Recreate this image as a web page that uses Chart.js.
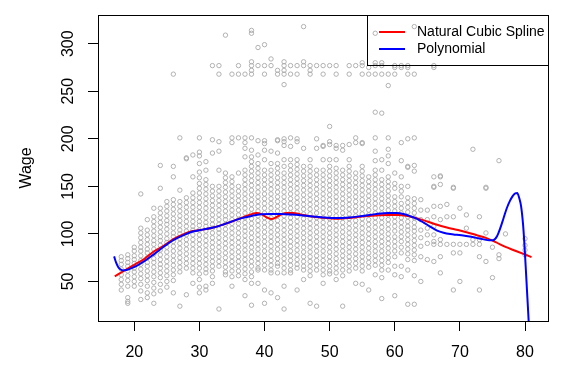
<!DOCTYPE html>
<html>
<head>
<meta charset="utf-8">
<script src="https://cdn.jsdelivr.net/npm/chart.js@4.4.1/dist/chart.umd.min.js"></script>
<style>
  html, body { margin: 0; padding: 0; background: #fff; }
  canvas { display: block; }
</style>
</head>
<body>
<canvas id="chart" width="574" height="384"></canvas>
<script>
var FONT = '"Liberation Sans", Arial, Helvetica, sans-serif';

// wage observations, one column of values per age
var ageColumns = [18, 19, 20, 21, 22, 23, 24, 25, 26, 27, 28, 29, 30, 31, 32, 33, 34, 35, 36, 37,
  38, 39, 40, 41, 42, 43, 44, 45, 46, 47, 48, 49, 50, 51, 52, 53, 54, 55, 56, 57, 58, 59, 60,
  61, 62, 63, 64, 65, 66, 67, 68, 69, 70, 71, 72, 73, 74, 75, 76, 77, 80];
var wageColumns = [
  [76, 72, 68, 63, 57, 52, 47, 41],
  [78, 74, 70, 66, 61, 56, 51, 45, 33, 29, 27],
  [86, 82, 77, 73, 69, 64, 60, 55, 50, 45],
  [142, 106, 101, 96, 91, 86, 82, 77, 72, 68, 63, 58, 53, 47, 40, 31],
  [115, 104, 99, 94, 89, 84, 80, 75, 70, 66, 61, 56, 51, 45, 38, 33],
  [127, 118, 113, 108, 103, 98, 93, 89, 84, 79, 74, 70, 65, 60, 55, 49, 43, 37, 27],
  [172, 148, 127, 122, 117, 112, 107, 102, 97, 93, 88, 83, 78, 73, 68, 64, 59, 54, 47, 40],
  [134, 129, 124, 119, 114, 110, 105, 100, 95, 91, 86, 81, 76, 71, 66, 61, 56, 50, 44],
  [268, 171, 160, 136, 131, 126, 121, 116, 111, 106, 101, 97, 92, 87, 82, 77, 72, 67, 62, 57, 51, 38],
  [201, 146, 134, 129, 124, 119, 114, 109, 104, 100, 95, 90, 85, 80, 75, 70, 65, 60, 24],
  [180, 179, 138, 133, 128, 123, 118, 113, 108, 103, 99, 94, 89, 84, 79, 74, 69, 64, 36],
  [183, 160, 143, 138, 133, 128, 123, 118, 113, 108, 104, 99, 94, 89, 84, 79, 74, 69, 64, 59, 48],
  [201, 186, 182, 174, 165, 159, 153, 148, 143, 138, 133, 128, 123, 118, 113, 109, 104, 99, 94, 89, 84, 79, 74, 69, 64, 58, 52, 44, 38],
  [176, 167, 157, 152, 147, 142, 137, 132, 127, 122, 117, 112, 108, 103, 98, 93, 88, 83, 78, 73, 68, 63, 59, 45, 41],
  [277, 199, 185, 150, 145, 140, 135, 130, 125, 120, 115, 110, 106, 101, 96, 91, 86, 81, 76, 71, 66, 61, 55, 48],
  [277, 268, 197, 187, 167, 150, 145, 140, 135, 130, 125, 120, 115, 110, 105, 101, 96, 91, 86, 81, 76, 71, 66, 21],
  [309, 164, 159, 154, 149, 144, 139, 134, 129, 124, 119, 115, 110, 105, 100, 95, 90, 85, 80, 75, 70, 65, 60, 57],
  [268, 201, 196, 160, 155, 150, 145, 140, 135, 130, 125, 120, 115, 111, 106, 101, 96, 91, 86, 81, 76, 71, 66, 61, 55, 45],
  [277, 268, 201, 164, 150, 145, 140, 135, 130, 125, 120, 115, 111, 106, 101, 96, 91, 86, 81, 76, 71, 66, 61, 56],
  [268, 201, 196, 190, 181, 167, 162, 157, 152, 147, 142, 137, 132, 127, 122, 117, 112, 107, 103, 98, 93, 88, 83, 78, 73, 68, 63, 58, 52, 35],
  [314, 311, 281, 277, 272, 268, 201, 188, 181, 176, 171, 166, 161, 156, 151, 146, 141, 136, 131, 126, 121, 116, 111, 106, 101, 96, 91, 86, 81, 76, 71, 66, 60, 55, 48, 25],
  [296, 277, 198, 183, 174, 169, 164, 159, 154, 149, 144, 139, 134, 129, 124, 119, 114, 109, 104, 99, 94, 89, 84, 79, 74, 69, 64, 62, 48],
  [299, 277, 268, 198, 195, 188, 178, 167, 162, 157, 152, 147, 142, 137, 132, 127, 122, 117, 112, 107, 102, 97, 92, 87, 82, 77, 72, 67, 62, 41, 27],
  [284, 277, 187, 174, 167, 162, 157, 152, 147, 142, 137, 132, 127, 122, 117, 112, 107, 102, 97, 92, 87, 82, 77, 72, 67, 62, 59, 38],
  [272, 268, 199, 198, 185, 174, 169, 164, 159, 154, 149, 144, 139, 134, 129, 124, 119, 114, 109, 104, 99, 94, 89, 84, 79, 74, 69, 66, 59, 33],
  [281, 277, 272, 268, 257, 200, 197, 193, 178, 171, 164, 159, 154, 149, 144, 139, 134, 129, 124, 119, 114, 109, 104, 99, 94, 89, 84, 79, 74, 69, 64, 59, 45, 21],
  [277, 268, 201, 192, 178, 172, 167, 162, 157, 152, 147, 142, 137, 132, 127, 122, 117, 112, 107, 102, 97, 92, 87, 82, 77, 72, 67, 62, 59],
  [277, 268, 200, 197, 178, 173, 168, 163, 158, 153, 148, 143, 138, 133, 128, 123, 118, 113, 108, 103, 98, 93, 88, 83, 78, 73, 68, 64, 41],
  [318, 281, 277, 190, 171, 166, 161, 156, 151, 146, 141, 136, 131, 126, 121, 116, 111, 106, 101, 96, 91, 86, 81, 76, 71, 66, 62, 52],
  [277, 272, 268, 178, 171, 166, 161, 156, 151, 146, 141, 136, 131, 126, 121, 116, 111, 106, 101, 96, 91, 86, 81, 76, 71, 66, 61, 56, 27],
  [277, 200, 190, 167, 162, 157, 152, 147, 142, 137, 132, 127, 122, 117, 112, 107, 102, 97, 92, 87, 82, 77, 72, 67, 62, 24],
  [277, 268, 193, 192, 178, 167, 162, 157, 152, 147, 142, 137, 132, 127, 122, 117, 112, 107, 102, 97, 92, 87, 82, 77, 72, 67, 62, 57, 48],
  [277, 213, 197, 194, 178, 171, 166, 161, 156, 151, 146, 141, 136, 131, 126, 121, 116, 111, 106, 101, 96, 91, 86, 81, 76, 71, 66, 61, 58],
  [277, 268, 193, 190, 178, 169, 164, 159, 154, 149, 144, 139, 134, 129, 124, 119, 114, 109, 104, 99, 94, 89, 84, 79, 74, 69, 64, 59, 52],
  [193, 188, 167, 162, 157, 152, 147, 142, 137, 132, 127, 122, 117, 112, 107, 102, 97, 92, 87, 82, 77, 72, 67, 62, 56, 24],
  [277, 268, 194, 178, 171, 166, 161, 156, 151, 146, 141, 136, 131, 126, 121, 116, 111, 106, 101, 96, 91, 86, 81, 76, 71, 66, 61],
  [277, 201, 196, 164, 159, 154, 149, 144, 139, 134, 129, 124, 119, 114, 109, 104, 99, 94, 89, 84, 79, 74, 69, 64, 48],
  [280, 277, 268, 196, 195, 171, 166, 161, 156, 151, 146, 141, 136, 131, 126, 121, 116, 111, 106, 101, 96, 91, 86, 81, 76, 71, 66, 61, 47],
  [275, 268, 160, 155, 150, 145, 140, 135, 130, 125, 120, 115, 110, 105, 100, 95, 90, 85, 80, 75, 70, 65, 41],
  [311, 280, 277, 268, 228, 201, 187, 177, 167, 162, 157, 152, 147, 142, 137, 132, 127, 122, 117, 112, 107, 102, 97, 92, 87, 82, 77, 72, 67, 57],
  [280, 277, 268, 227, 178, 167, 157, 152, 147, 142, 137, 132, 127, 122, 117, 112, 107, 102, 97, 92, 87, 82, 77, 72, 67, 62, 54, 32],
  [268, 256, 201, 189, 182, 174, 160, 155, 150, 145, 140, 135, 130, 125, 120, 115, 110, 105, 100, 95, 90, 85, 80, 75, 70, 62],
  [277, 275, 268, 164, 153, 148, 139, 134, 129, 124, 118, 113, 108, 103, 97, 92, 87, 82, 76, 66, 57, 35],
  [277, 275, 196, 177, 160, 150, 145, 139, 132, 127, 122, 117, 112, 107, 102, 97, 92, 86, 80, 66, 55],
  [277, 275, 268, 200, 171, 170, 150, 138, 133, 128, 123, 118, 113, 108, 104, 99, 94, 89, 84, 79, 73, 62, 26],
  [318, 268, 201, 172, 166, 137, 132, 127, 122, 117, 112, 107, 103, 98, 93, 88, 83, 78, 72, 56, 26],
  [136, 125, 115, 104, 96, 87, 76, 50],
  [125, 115, 106, 99, 90, 73],
  [277, 275, 160, 150, 149, 129, 118, 108, 99, 92, 89, 71],
  [161, 160, 152, 129, 115, 94, 89, 76, 59],
  [131, 118, 89],
  [149, 148, 118, 89, 80, 41],
  [127, 89, 80, 50],
  [120, 106, 89],
  [189, 94, 89],
  [118, 94, 89, 76, 41],
  [149, 148, 101, 71],
  [86, 54],
  [177, 78, 74],
  [100],
  [95, 88, 83, 78]
];

// fitted curves
var splineAges = [17, 18.5, 20, 21.5, 23, 24.5, 26, 27.5, 29, 30.5, 32, 33.5, 35, 36.5, 38, 38.8,
  39.5, 40.3, 41.1, 41.8, 42.6, 43.5, 44.4, 45.5, 47, 49, 51, 53, 55, 57, 59, 60.5, 62, 63.5,
  65, 66.5, 68, 69.5, 71, 72.5, 74, 75.5, 77, 78.5, 81];
var splineWages = [55.3, 61.5, 67.5, 73.5, 81.5, 87.5, 94.5, 99.5, 103, 104.5, 106.5, 109.5, 113,
  117, 120.8, 122, 120.8, 117.5, 115.6, 117.5, 120.5, 122, 122, 120.5, 118.5, 117, 116, 116.8,
  118.3, 119.3, 120, 120, 118.8, 116.3, 113, 109.6, 106.8, 104.3, 101.8, 98.8, 95.8, 91.3, 86.3,
  82.3, 75.6];
var polyAges = [16.9, 17.2, 17.5, 17.9, 18.3, 18.8, 19.5, 20.5, 21.6, 23, 24.5, 26, 27.5, 29, 30.5,
  32, 33.5, 35, 36.5, 38, 39.5, 41, 42.5, 44, 45.5, 47, 49, 51, 53, 55, 57, 59, 60.3, 61.5, 62.5,
  63.5, 64.5, 65.5, 66.5, 67.5, 68.5, 69.5, 70.5, 71.5, 72.5, 73.5, 74.5, 75.1, 75.7, 76.2, 76.7,
  77.2, 77.7, 78.1, 78.5, 78.8, 79.1, 79.4, 79.7, 79.9, 80.1, 80.3, 80.5, 80.6];
var polyWages = [76.3, 70, 65.5, 62.5, 61.6, 62, 63.8, 67, 71.5, 78.5, 86.5, 93.5, 98.5, 102.5,
  104.5, 106.5, 109.5, 113.2, 116.6, 118.9, 120.6, 121, 120.9, 120.4, 119.7, 118.6, 117.3, 116.6,
  117.2, 118.9, 120.8, 122, 122, 120.6, 118.3, 115.6, 111.5, 107.5, 103.5, 101.2, 99.8, 99, 98.3,
  97.2, 95.8, 94.5, 93.2, 93.3, 97.5, 106, 116.5, 127, 135, 139.8, 142.7, 143, 138, 129, 110, 90,
  66, 41, 16, 3];

var seriesNames = ['Natural Cubic Spline', 'Polynomial'];
var seriesColors = ['#ff0000', '#0000ff'];
var xTicks = [20, 30, 40, 50, 60, 70, 80];
var yTicks = [50, 100, 150, 200, 250, 300];

function toPoints(xs, ys) {
  return xs.map(function (x, i) { return { x: x, y: ys[i] }; });
}

var scatterPoints = [];
ageColumns.forEach(function (age, i) {
  wageColumns[i].forEach(function (w) { scatterPoints.push({ x: age, y: w }); });
});

// box, rotated y labels, axis title and legend the R way
var framePlugin = {
  id: 'frame',
  afterDraw: function (chart) {
    var c = chart.ctx;
    var a = chart.chartArea;
    var yScale = chart.scales.y;
    c.save();
    c.strokeStyle = '#000';
    c.lineWidth = 1;
    c.strokeRect(a.left + 0.5, a.top + 0.5, a.right - a.left, a.bottom - a.top);

    c.fillStyle = '#000';
    c.font = '16px ' + FONT;
    c.textAlign = 'center';
    c.textBaseline = 'middle';
    yTicks.forEach(function (v) {
      c.save();
      c.translate(69, yScale.getPixelForValue(v));
      c.rotate(-Math.PI / 2);
      c.fillText(String(v), 0, 0);
      c.restore();
    });
    c.save();
    c.translate(27, (a.top + a.bottom) / 2);
    c.rotate(-Math.PI / 2);
    c.fillText('Wage', 0, 0);
    c.restore();

    // legend
    var lx = 367;
    c.strokeRect(lx + 0.5, a.top + 0.5, a.right - lx, 50);
    c.font = '14px ' + FONT;
    c.textAlign = 'left';
    seriesNames.forEach(function (name, i) {
      var ly = a.top + 17 + i * 17;
      c.strokeStyle = seriesColors[i];
      c.lineWidth = 2;
      c.beginPath();
      c.moveTo(379, ly);
      c.lineTo(405, ly);
      c.stroke();
      c.fillText(name, 417, ly);
    });
    c.restore();
  }
};

var ctx = document.getElementById('chart').getContext('2d');
var chart = new Chart(ctx, {
  type: 'scatter',
  data: {
    datasets: [
      {
        label: 'Wage',
        data: scatterPoints,
        order: 3,
        pointStyle: 'circle',
        pointRadius: 2.2,
        pointHoverRadius: 2.2,
        borderWidth: 0.9,
        borderColor: '#a9a9a9',
        backgroundColor: 'rgba(0,0,0,0)'
      },
      {
        label: seriesNames[0],
        data: toPoints(splineAges, splineWages),
        order: 2,
        showLine: true,
        cubicInterpolationMode: 'monotone',
        borderColor: seriesColors[0],
        borderWidth: 2,
        pointRadius: 0
      },
      {
        label: seriesNames[1],
        data: toPoints(polyAges, polyWages),
        order: 1,
        showLine: true,
        cubicInterpolationMode: 'monotone',
        borderColor: seriesColors[1],
        borderWidth: 2,
        pointRadius: 0
      }
    ]
  },
  options: {
    responsive: false,
    animation: false,
    devicePixelRatio: 1,
    events: [],
    layout: { padding: { top: 15, right: 26, left: 0, bottom: 0 } },
    plugins: { legend: { display: false }, tooltip: { enabled: false } },
    scales: {
      x: {
        type: 'linear',
        min: 14.43,
        max: 83.53,
        afterFit: function (s) { s.height = 63; },
        afterBuildTicks: function (s) { s.ticks = xTicks.map(function (v) { return { value: v }; }); },
        border: { display: false },
        grid: { drawOnChartArea: false, tickLength: 10, color: '#000', lineWidth: 1 },
        ticks: { color: '#000', font: { family: FONT, size: 16 }, padding: 12, maxRotation: 0, autoSkip: false }
      },
      y: {
        type: 'linear',
        min: 8.4,
        max: 330.2,
        afterFit: function (s) { s.width = 98; },
        afterBuildTicks: function (s) { s.ticks = yTicks.map(function (v) { return { value: v }; }); },
        border: { display: false },
        grid: { drawOnChartArea: false, tickLength: 10, color: '#000', lineWidth: 1 },
        ticks: { display: false }
      }
    }
  },
  plugins: [framePlugin]
});
</script>
</body>
</html>
